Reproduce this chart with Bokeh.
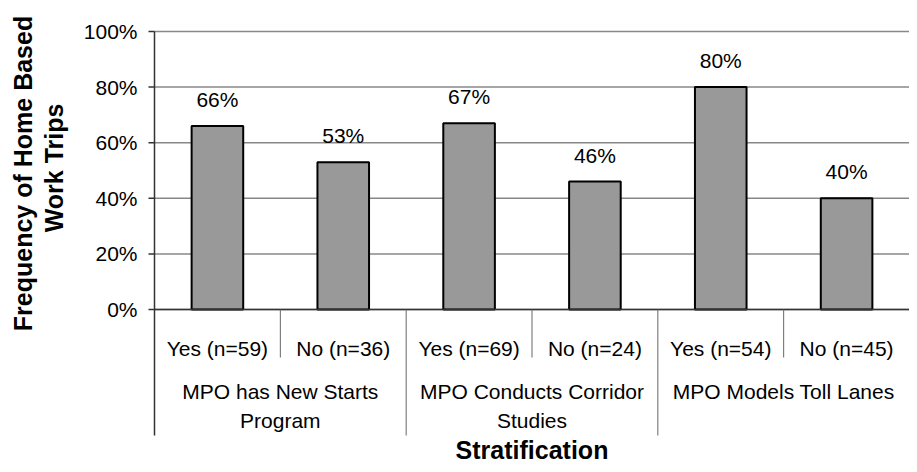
import math
from bokeh.plotting import figure
from bokeh.models import ColumnDataSource, Range1d, LabelSet
from bokeh.core.properties import value
from bokeh.embed import file_html
from bokeh.resources import INLINE

# ---- data ----
categories = ["Yes (n=59)", "No (n=36)", "Yes (n=69)", "No (n=24)", "Yes (n=54)", "No (n=45)"]
groups = ["MPO has New Starts\nProgram", "MPO Conducts Corridor\nStudies", "MPO Models Toll Lanes"]
values = [66, 53, 67, 46, 80, 40]
y_ticks = [0, 20, 40, 60, 80, 100]
y_tick_labels = [f"{t}%" for t in y_ticks]
y_title_lines = ["Frequency of Home Based", "Work Trips"]
x_title = "Stratification"

# ---- layout (pixels) ----
W, H = 909, 464
AX_L = 154          # pixel x of the category axis start
AX_ZERO = 309       # pixel y of 0%
PX_Y = 2.78         # pixels per percentage point
n = len(categories)
PX_X = (W - AX_L) / n


def dx(px):  # pixel offset -> x data units
    return px / PX_X


def dy(px):  # pixel offset -> y data units
    return px / PX_Y


FONT = "Liberation Sans"
xs = [i + 0.5 for i in range(n)]
gx = [2 * i + 1 for i in range(len(groups))]
y_axis_bottom = -dy(435 - AX_ZERO)

p = figure(width=W, height=H, output_backend="svg", toolbar_location=None,
           x_range=Range1d(-dx(AX_L), n), y_range=Range1d(-dy(H - AX_ZERO), dy(AX_ZERO)),
           min_border=0)
p.axis.visible = False
p.grid.visible = False
p.outline_line_color = None
p.background_fill_color = "white"
p.border_fill_color = "white"

# gridlines
p.segment(x0=[0] * len(y_ticks), x1=[n] * len(y_ticks), y0=y_ticks, y1=y_ticks,
          line_color="#888888", line_width=1.5)

# bars
src = ColumnDataSource(dict(x=xs, top=values, lab=[f"{v}%" for v in values], cat=categories))
p.vbar(x="x", top="top", width=0.41, bottom=0, source=src,
       fill_color="#999999", line_color="black", line_width=2)

# zero line and y axis line
p.segment(x0=[0], x1=[n], y0=[0], y1=[0], line_color="#333333", line_width=1.5)
p.segment(x0=[0], x1=[0], y0=[y_ticks[-1]], y1=[y_axis_bottom], line_color="#333333", line_width=1.5)

# y ticks and labels
p.segment(x0=[-dx(6)] * len(y_ticks), x1=[0] * len(y_ticks), y0=y_ticks, y1=y_ticks,
          line_color="#333333", line_width=1.5)
p.text(x=[-dx(17)] * len(y_ticks), y=y_ticks, text=y_tick_labels, text_align="right",
       text_baseline="middle", text_font=value(FONT), text_font_size="21px", text_color="black")

# data labels
p.add_layout(LabelSet(x="x", y="top", text="lab", source=src, y_offset=19,
                      text_align="center", text_baseline="alphabetic",
                      text_font=value(FONT), text_font_size="21px", text_color="black"))

# separators
sub_sep = [i for i in range(1, n) if i % 2 == 1]
grp_sep = [i for i in range(1, n) if i % 2 == 0]
p.segment(x0=sub_sep, y0=[0] * len(sub_sep), x1=sub_sep, y1=[-dy(48)] * len(sub_sep),
          line_color="#666666", line_width=1)
p.segment(x0=grp_sep, y0=[0] * len(grp_sep), x1=grp_sep, y1=[y_axis_bottom] * len(grp_sep),
          line_color="#666666", line_width=1)

# category labels
p.text(x=xs, y=[-dy(39)] * n, text=categories, text_align="center", text_baseline="alphabetic",
       text_font=value(FONT), text_font_size="21px", text_color="black")

# group labels
p.text(x=gx, y=[-dy(70)] * len(groups), text=groups, text_align="center", text_baseline="top",
       text_font=value(FONT), text_font_size="21px", text_color="black", text_line_height=1.3)

# y axis title (two lines)
p.text(x=[-dx(AX_L - 22), -dx(AX_L - 53)], y=[dy(AX_ZERO - 173), dy(AX_ZERO - 167.5)],
       text=y_title_lines, angle=math.pi / 2, text_align="center", text_baseline="middle",
       text_font=value(FONT), text_font_style="bold", text_font_size="25px", text_color="black")

# x axis title
p.text(x=[n / 2], y=[-dy(449 - AX_ZERO)], text=[x_title], text_align="center",
       text_baseline="middle", text_font=value(FONT), text_font_style="bold",
       text_font_size="25px", text_color="black")

open("out.html", "w").write(file_html(p, INLINE))
